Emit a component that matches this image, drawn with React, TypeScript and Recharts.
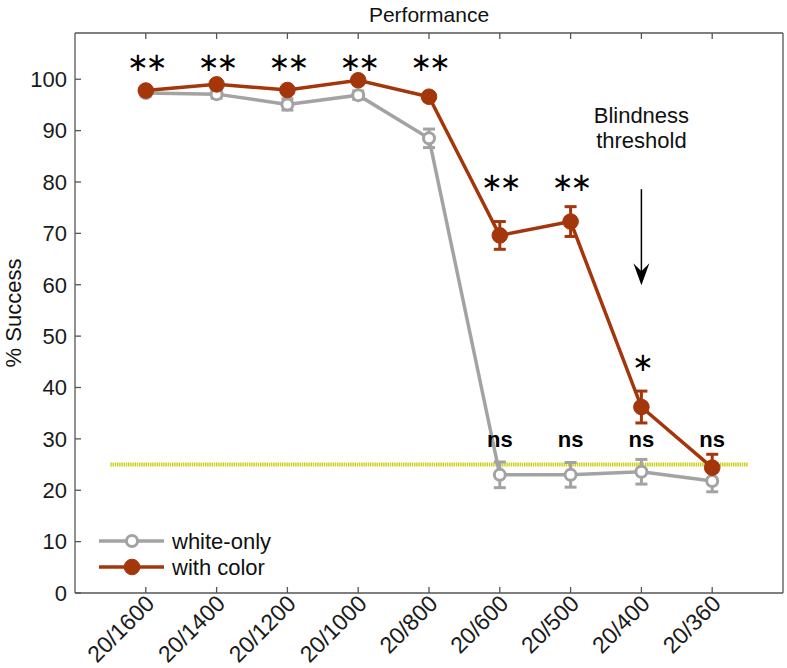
import {
  ComposedChart,
  Line,
  XAxis,
  YAxis,
  ErrorBar,
  ReferenceLine,
  ReferenceDot,
  Legend,
} from 'recharts';

// ── Data ───────────────────────────────────────────

const categories = ['20/1600', '20/1400', '20/1200', '20/1000', '20/800', '20/600', '20/500', '20/400', '20/360'];
const whiteOnly = [97.3, 97.1, 95.1, 96.9, 88.5, 23.0, 23.0, 23.6, 21.8];
const whiteErr = [0.6, 0.8, 1.1, 0.8, 1.8, 2.5, 2.4, 2.4, 2.1];
const withColor = [97.8, 99.0, 97.9, 99.8, 96.6, 69.6, 72.3, 36.2, 24.4];
const colorErr = [0.5, 0.6, 0.6, 0.5, 0.8, 2.7, 2.9, 3.1, 2.6];

// significance marks above the points
const starText = ['∗∗', '∗∗', '∗∗', '∗∗', '∗∗', '∗∗', '∗∗', '∗', ''];
const starLevel = [103.4, 103.4, 103.4, 103.4, 103.4, 80, 80, 45, 0];
const nsText = ['', '', '', '', '', 'ns', 'ns', 'ns', 'ns'];
const nsLevel = 29.8;

const yTicks = [0, 10, 20, 30, 40, 50, 60, 70, 80, 90, 100];
const yMax = 109;
const chanceLevel = 25;
const chanceSpan = [0.5, 9.5];
const thresholdPos = 8;
const arrowFrom = 78.6;
const arrowTo = 59.9;
const seriesNames = ['white-only', 'with color'];

const GRAY = '#a3a3a3';
const RED = '#a4360c';
const AXIS = '#555555';
const FONT = '"Liberation Sans", Arial, sans-serif';
const FS = 22;

const xPos = categories.map((_, i) => i + 1);
const data = categories.map((c, i) => ({
  x: xPos[i],
  name: c,
  white: whiteOnly[i],
  whiteErr: whiteErr[i],
  color: withColor[i],
  colorErr: colorErr[i],
}));

// ── Pieces ─────────────────────────────────────────

function XTick({ x, y, payload }: any) {
  const label = categories[payload.value - 1] ?? '';
  const ax = x + 10;
  const ay = y + 8;
  return (
    <text
      x={ax}
      y={ay}
      transform={`rotate(-45, ${ax}, ${ay})`}
      textAnchor="end"
      fontSize={23}
      fontFamily={FONT}
      fill="#1a1a1a"
    >
      {label}
    </text>
  );
}

function TextMark(text: string, size: number, bold: boolean, family = FONT, spacing = 0) {
  return (props: any) => (
    <text
      x={props.cx}
      y={props.cy}
      textAnchor="middle"
      dominantBaseline="central"
      fontSize={size}
      fontWeight={bold ? 700 : 400}
      fontFamily={family}
      letterSpacing={spacing}
      fill="#000"
    >
      {text}
    </text>
  );
}

function ArrowHead(props: any) {
  const { cx, cy } = props;
  return (
    <path
      d={`M${cx},${cy} L${cx - 8},${cy - 22} L${cx},${cy - 14} L${cx + 8},${cy - 22} Z`}
      fill="#000"
    />
  );
}

function ThresholdText(props: any) {
  return (
    <text x={props.cx} y={props.cy} textAnchor="middle" fontSize={FS} fontFamily={FONT} fill="#111">
      <tspan x={props.cx} dy={0}>Blindness</tspan>
      <tspan x={props.cx} dy={25}>threshold</tspan>
    </text>
  );
}

function LegendBox() {
  const rows = [
    { name: seriesNames[0], stroke: GRAY, fill: '#fff', r: 5.5, sw: 3 },
    { name: seriesNames[1], stroke: RED, fill: RED, r: 7.8, sw: 1 },
  ];
  return (
    <svg width={240} height={56}>
      {rows.map((row, i) => {
        const cy = 13 + i * 26;
        return (
          <g key={row.name}>
            <line x1={4} x2={69} y1={cy} y2={cy} stroke={row.stroke} strokeWidth={3.5} />
            <circle cx={37} cy={cy} r={row.r} fill={row.fill} stroke={row.stroke} strokeWidth={row.sw} />
            <text x={77} y={cy + 8} fontSize={FS} fontFamily={FONT} fill="#111">
              {row.name}
            </text>
          </g>
        );
      })}
    </svg>
  );
}

// ── Chart ──────────────────────────────────────────

export default function App() {
  const axisCommon = {
    stroke: AXIS,
    strokeWidth: 1.3,
    tickSize: -6,
  };

  return (
    <div style={{ position: 'absolute', left: 0, top: 0, width: 787, height: 668, background: '#fff' }}>
      <ComposedChart width={787} height={668} data={data} margin={{ top: 32, right: 3, bottom: 0, left: 0 }}>
        <XAxis
          dataKey="x"
          type="number"
          domain={[0, 10]}
          ticks={xPos}
          height={75}
          {...axisCommon}
          tickMargin={10}
          tick={<XTick />}
          interval={0}
          allowDataOverflow
        />
        <XAxis
          xAxisId="top"
          dataKey="x"
          type="number"
          orientation="top"
          domain={[0, 10]}
          ticks={xPos}
          height={1}
          {...axisCommon}
          tickFormatter={() => ''}
          interval={0}
          label={{ value: 'Performance', position: 'top', offset: 10, fontSize: 21, fontFamily: FONT, fill: '#111' }}
        />
        <YAxis
          type="number"
          domain={[0, yMax]}
          ticks={yTicks}
          width={75}
          {...axisCommon}
          tickMargin={14}
          interval={0}
          allowDataOverflow
          tick={{ fontSize: FS, fontFamily: FONT, fill: '#1a1a1a' }}
          label={{ value: '% Success', angle: -90, position: 'insideLeft', offset: 13, fontSize: FS, fontFamily: FONT, fill: '#111', style: { textAnchor: 'middle' } }}
        />
        <YAxis
          yAxisId="right"
          orientation="right"
          type="number"
          domain={[0, yMax]}
          ticks={yTicks}
          width={1}
          {...axisCommon}
          interval={0}
          tickFormatter={() => ''}
        />

        <ReferenceLine
          segment={[{ x: chanceSpan[0], y: chanceLevel }, { x: chanceSpan[1], y: chanceLevel }]}
          stroke="#cccc10"
          strokeWidth={4}
          strokeDasharray="1.4 0.8"
        />

        <Line
          dataKey="white"
          stroke={GRAY}
          strokeWidth={3.5}
          isAnimationActive={false}
          dot={{ r: 5.5, fill: '#fff', stroke: GRAY, strokeWidth: 3 }}
          activeDot={false}
        >
          <ErrorBar dataKey="whiteErr" direction="y" width={6} stroke={GRAY} strokeWidth={3} isAnimationActive={false} />
        </Line>
        <Line
          dataKey="color"
          stroke={RED}
          strokeWidth={3.5}
          isAnimationActive={false}
          dot={{ r: 7.8, fill: RED, stroke: RED, strokeWidth: 1 }}
          activeDot={false}
        >
          <ErrorBar dataKey="colorErr" direction="y" width={6} stroke={RED} strokeWidth={3} isAnimationActive={false} />
        </Line>

        {xPos.map((p, i) =>
          starText[i] ? (
            <ReferenceDot
              key={`s${p}`}
              x={p}
              y={starLevel[i]}
              r={0}
              shape={TextMark(starText[i], 26, false, '"DejaVu Sans", sans-serif', -3)}
            />
          ) : null,
        )}
        {xPos.map((p, i) =>
          nsText[i] ? (
            <ReferenceDot key={`n${p}`} x={p} y={nsLevel} r={0} shape={TextMark(nsText[i], 22, true)} />
          ) : null,
        )}

        <ReferenceLine
          segment={[{ x: thresholdPos, y: arrowFrom }, { x: thresholdPos, y: arrowTo + 2 }]}
          stroke="#000"
          strokeWidth={1.5}
        />
        <ReferenceDot x={thresholdPos} y={arrowTo} r={0} shape={ArrowHead} />
        <ReferenceDot x={thresholdPos} y={91.4} r={0} shape={ThresholdText} />

        <Legend
          layout="horizontal"
          verticalAlign="middle"
          wrapperStyle={{ left: 95, top: 528, width: 240 }}
          content={<LegendBox />}
        />
      </ComposedChart>
    </div>
  );
}
